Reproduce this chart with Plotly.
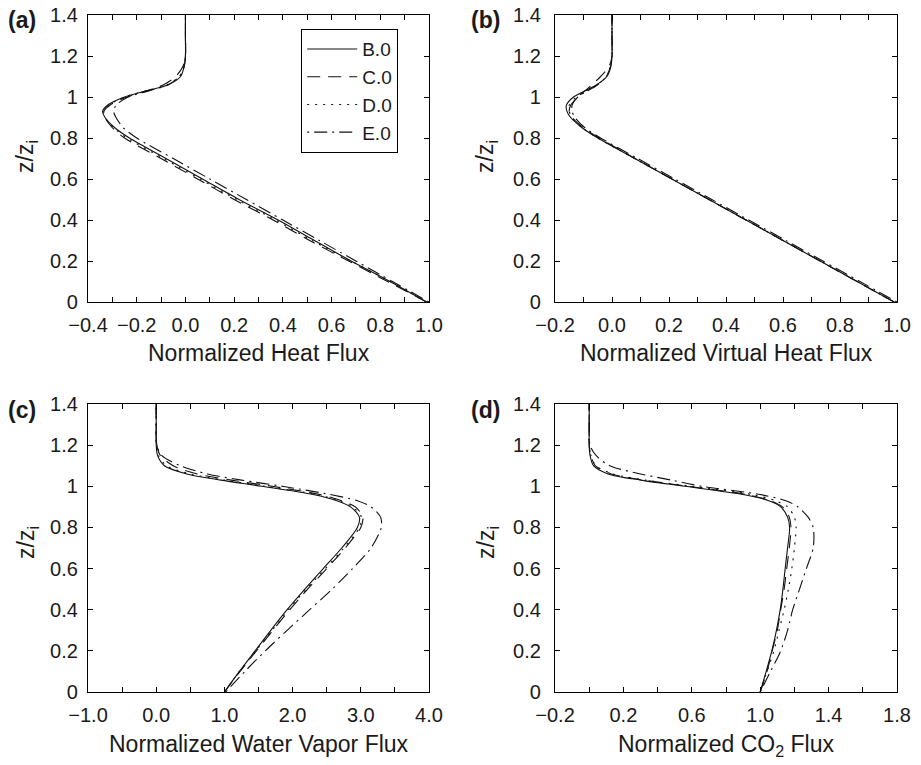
import plotly.graph_objects as go

# ---------------- data ----------------
z = [0, 0.1, 0.2, 0.3, 0.4, 0.5, 0.6, 0.7, 0.8, 0.85, 0.9, 0.93, 0.96,
     1.0, 1.03, 1.06, 1.1, 1.15, 1.2, 1.3, 1.4]

series_names = ["B.0", "C.0", "D.0", "E.0"]

heat_B = [0.99, 0.84, 0.68, 0.53, 0.38, 0.22, 0.07, -0.08, -0.23, -0.29, -0.33, -0.34, -0.32, -0.25, -0.16, -0.07, -0.02, -0.005, 0, 0, 0]
heat_C = [0.99, 0.83, 0.67, 0.51, 0.36, 0.20, 0.05, -0.10, -0.25, -0.30, -0.33, -0.335, -0.31, -0.24, -0.16, -0.09, -0.04, -0.01, 0, 0, 0]
heat_D = [0.99, 0.84, 0.68, 0.52, 0.37, 0.21, 0.06, -0.09, -0.24, -0.295, -0.33, -0.335, -0.315, -0.25, -0.16, -0.075, -0.025, -0.005, 0, 0, 0]
heat_E = [1.0, 0.85, 0.70, 0.55, 0.40, 0.25, 0.10, -0.05, -0.20, -0.255, -0.285, -0.295, -0.285, -0.235, -0.15, -0.07, -0.025, -0.005, 0, 0, 0]

vheat_B = [0.99, 0.86, 0.73, 0.60, 0.47, 0.34, 0.21, 0.08, -0.05, -0.105, -0.145, -0.158, -0.16, -0.135, -0.095, -0.054, -0.018, -0.004, 0, 0, 0]
vheat_C = [0.99, 0.86, 0.73, 0.60, 0.47, 0.34, 0.21, 0.08, -0.045, -0.10, -0.14, -0.15, -0.145, -0.12, -0.095, -0.07, -0.04, -0.01, 0, 0, 0]
vheat_D = [0.99, 0.86, 0.73, 0.60, 0.47, 0.34, 0.21, 0.08, -0.05, -0.105, -0.14, -0.15, -0.15, -0.125, -0.09, -0.05, -0.02, -0.005, 0, 0, 0]
vheat_E = [1.0, 0.87, 0.74, 0.61, 0.48, 0.35, 0.22, 0.09, -0.04, -0.095, -0.13, -0.14, -0.14, -0.12, -0.085, -0.05, -0.02, -0.005, 0, 0, 0]

wv_B = [1.0, 1.22, 1.45, 1.68, 1.92, 2.18, 2.45, 2.72, 2.95, 2.98, 2.85, 2.65, 2.30, 1.55, 0.95, 0.45, 0.12, 0.02, 0, 0, 0]
wv_C = [1.0, 1.23, 1.47, 1.71, 1.96, 2.22, 2.50, 2.77, 3.00, 3.03, 2.92, 2.72, 2.40, 1.70, 1.10, 0.60, 0.25, 0.06, 0.01, 0, 0]
wv_D = [1.0, 1.22, 1.46, 1.70, 1.94, 2.20, 2.48, 2.75, 2.98, 3.01, 2.88, 2.68, 2.35, 1.60, 1.00, 0.50, 0.15, 0.03, 0, 0, 0]
wv_E = [1.02, 1.30, 1.60, 1.92, 2.25, 2.58, 2.88, 3.15, 3.30, 3.29, 3.15, 2.95, 2.55, 1.85, 1.25, 0.75, 0.35, 0.08, 0.01, 0, 0]

co2_B = [1.0, 1.035, 1.068, 1.095, 1.117, 1.133, 1.146, 1.16, 1.172, 1.16, 1.12, 1.05, 0.90, 0.56, 0.30, 0.11, 0.025, 0.005, 0, 0, 0]
co2_C = [1.0, 1.04, 1.07, 1.10, 1.12, 1.14, 1.155, 1.17, 1.18, 1.17, 1.13, 1.06, 0.92, 0.58, 0.32, 0.13, 0.035, 0.01, 0, 0, 0]
co2_D = [1.0, 1.04, 1.08, 1.11, 1.14, 1.165, 1.185, 1.20, 1.21, 1.20, 1.16, 1.09, 0.95, 0.60, 0.33, 0.14, 0.04, 0.01, 0, 0, 0]
co2_E = [1.0, 1.06, 1.12, 1.16, 1.19, 1.23, 1.27, 1.31, 1.31, 1.28, 1.22, 1.15, 1.00, 0.66, 0.48, 0.30, 0.12, 0.04, 0.005, 0, 0]

panels = [
    ("(a)", "Normalized Heat Flux", [heat_B, heat_C, heat_D, heat_E]),
    ("(b)", "Normalized Virtual Heat Flux", [vheat_B, vheat_C, vheat_D, vheat_E]),
    ("(c)", "Normalized Water Vapor Flux", [wv_B, wv_C, wv_D, wv_E]),
    ("(d)", "Normalized CO<sub>2</sub> Flux", [co2_B, co2_C, co2_D, co2_E]),
]

# x ticks per panel: labelled values and minor tick spacing
xtick_labelled = [
    [-0.4, -0.2, 0.0, 0.2, 0.4, 0.6, 0.8, 1.0],
    [-0.2, 0.0, 0.2, 0.4, 0.6, 0.8, 1.0],
    [-1.0, 0.0, 1.0, 2.0, 3.0, 4.0],
    [-0.2, 0.2, 0.6, 1.0, 1.4, 1.8],
]
x_minor_step = [0.1, 0.1, 0.5, 0.2]
x_ranges = [[-0.4, 1.0], [-0.2, 1.0], [-1.0, 4.0], [-0.2, 1.8]]

ytick_vals = [0, 0.2, 0.4, 0.6, 0.8, 1.0, 1.2, 1.4]
ytick_text = ["0", "0.2", "0.4", "0.6", "0.8", "1", "1.2", "1.4"]

# ---------------- layout geometry (pixels) ----------------
W, H = 921, 765
boxes = [  # left, right, top, bottom
    (88, 429, 15, 302),
    (555, 897, 15, 302),
    (88, 429, 404, 692),
    (555, 897, 404, 692),
]

dashes = ["solid", "13px,8px", "2px,6px", "2px,5px,13px,5px"]

FONT = "Liberation Sans, Arial, Helvetica, sans-serif"
TXT = "#1a1a1a"

def fmt(v):
    s = f"{abs(v):.1f}"
    return ("\u2212" + s) if v < 0 else s

fig = go.Figure()
layout = dict(
    width=W, height=H,
    margin=dict(l=0, r=0, t=0, b=0, pad=0, autoexpand=False),
    paper_bgcolor="white", plot_bgcolor="white",
    font=dict(family=FONT, size=20, color=TXT),
    showlegend=True,
    legend=dict(
        x=301 / W, y=1 - 29 / H, xanchor="left", yanchor="top",
        bordercolor="black", borderwidth=1.2, bgcolor="white",
        font=dict(size=19, family=FONT, color=TXT),
        itemwidth=50, tracegroupgap=0,
        entrywidth=76, entrywidthmode="pixels",
    ),
    annotations=[],
)

for k, (lab, xtitle, data) in enumerate(panels):
    idx = "" if k == 0 else str(k + 1)
    xa, ya = "x" + idx, "y" + idx
    l, r, t, b = boxes[k]
    for j, vals in enumerate(data):
        fig.add_trace(go.Scatter(
            x=vals, y=z, mode="lines", name=series_names[j],
            xaxis=xa, yaxis=ya, showlegend=(k == 0),
            line=dict(color="#111111", width=1.1, dash=dashes[j],
                      shape="spline", smoothing=0.8),
            hoverinfo="skip",
        ))
    common = dict(showline=True, linecolor="black", linewidth=1.2, mirror="allticks",
                  ticks="inside", ticklen=5, tickcolor="black", tickwidth=1,
                  showgrid=False, zeroline=False, fixedrange=True, automargin=False,
                  tickfont=dict(size=20, family=FONT, color=TXT))
    layout["xaxis" + idx] = dict(
        domain=[l / W, r / W], range=x_ranges[k], anchor=ya,
        tickmode="array", tickvals=xtick_labelled[k],
        ticktext=[fmt(v) for v in xtick_labelled[k]],
        minor=dict(tickmode="linear", tick0=x_ranges[k][0], dtick=x_minor_step[k],
                   ticks="inside", ticklen=5, tickcolor="black", tickwidth=1,
                   showgrid=False),
        ticklabelstandoff=5, **common)
    layout["yaxis" + idx] = dict(
        domain=[1 - b / H, 1 - t / H], range=[0, 1.4], anchor=xa,
        tickmode="array", tickvals=ytick_vals, ticktext=ytick_text,
        ticklabelstandoff=5 if k % 2 == 0 else 9, **common)
    # panel label
    lx = 22 if k % 2 == 0 else 485
    ly = 20 if k < 2 else 410
    layout["annotations"].append(dict(
        text="<b>" + lab + "</b>", x=lx / W, y=1 - ly / H, xref="paper", yref="paper",
        xanchor="center", yanchor="middle", showarrow=False,
        font=dict(size=23, family=FONT, color=TXT)))
    # x title
    layout["annotations"].append(dict(
        text=xtitle, x=((l + r) / 2) / W, y=1 - (338 if k < 2 else 729) / H,
        xref="paper", yref="paper", xanchor="center", yanchor="top", showarrow=False,
        font=dict(size=23, family=FONT, color=TXT)))
    # y title
    yx = 27 if k % 2 == 0 else 487
    yy = 157 if k < 2 else 543
    layout["annotations"].append(dict(
        text="z/z<sub>i</sub>", x=yx / W, y=1 - yy / H, xref="paper", yref="paper",
        xanchor="center", yanchor="middle", textangle=-90, showarrow=False,
        font=dict(size=23, family=FONT, color=TXT)))

fig.update_layout(**layout)
fig.write_html(
    "out.html",
    config={"displayModeBar": False},
    post_script="document.body.style.margin='0';document.body.style.overflow='hidden';",
)
